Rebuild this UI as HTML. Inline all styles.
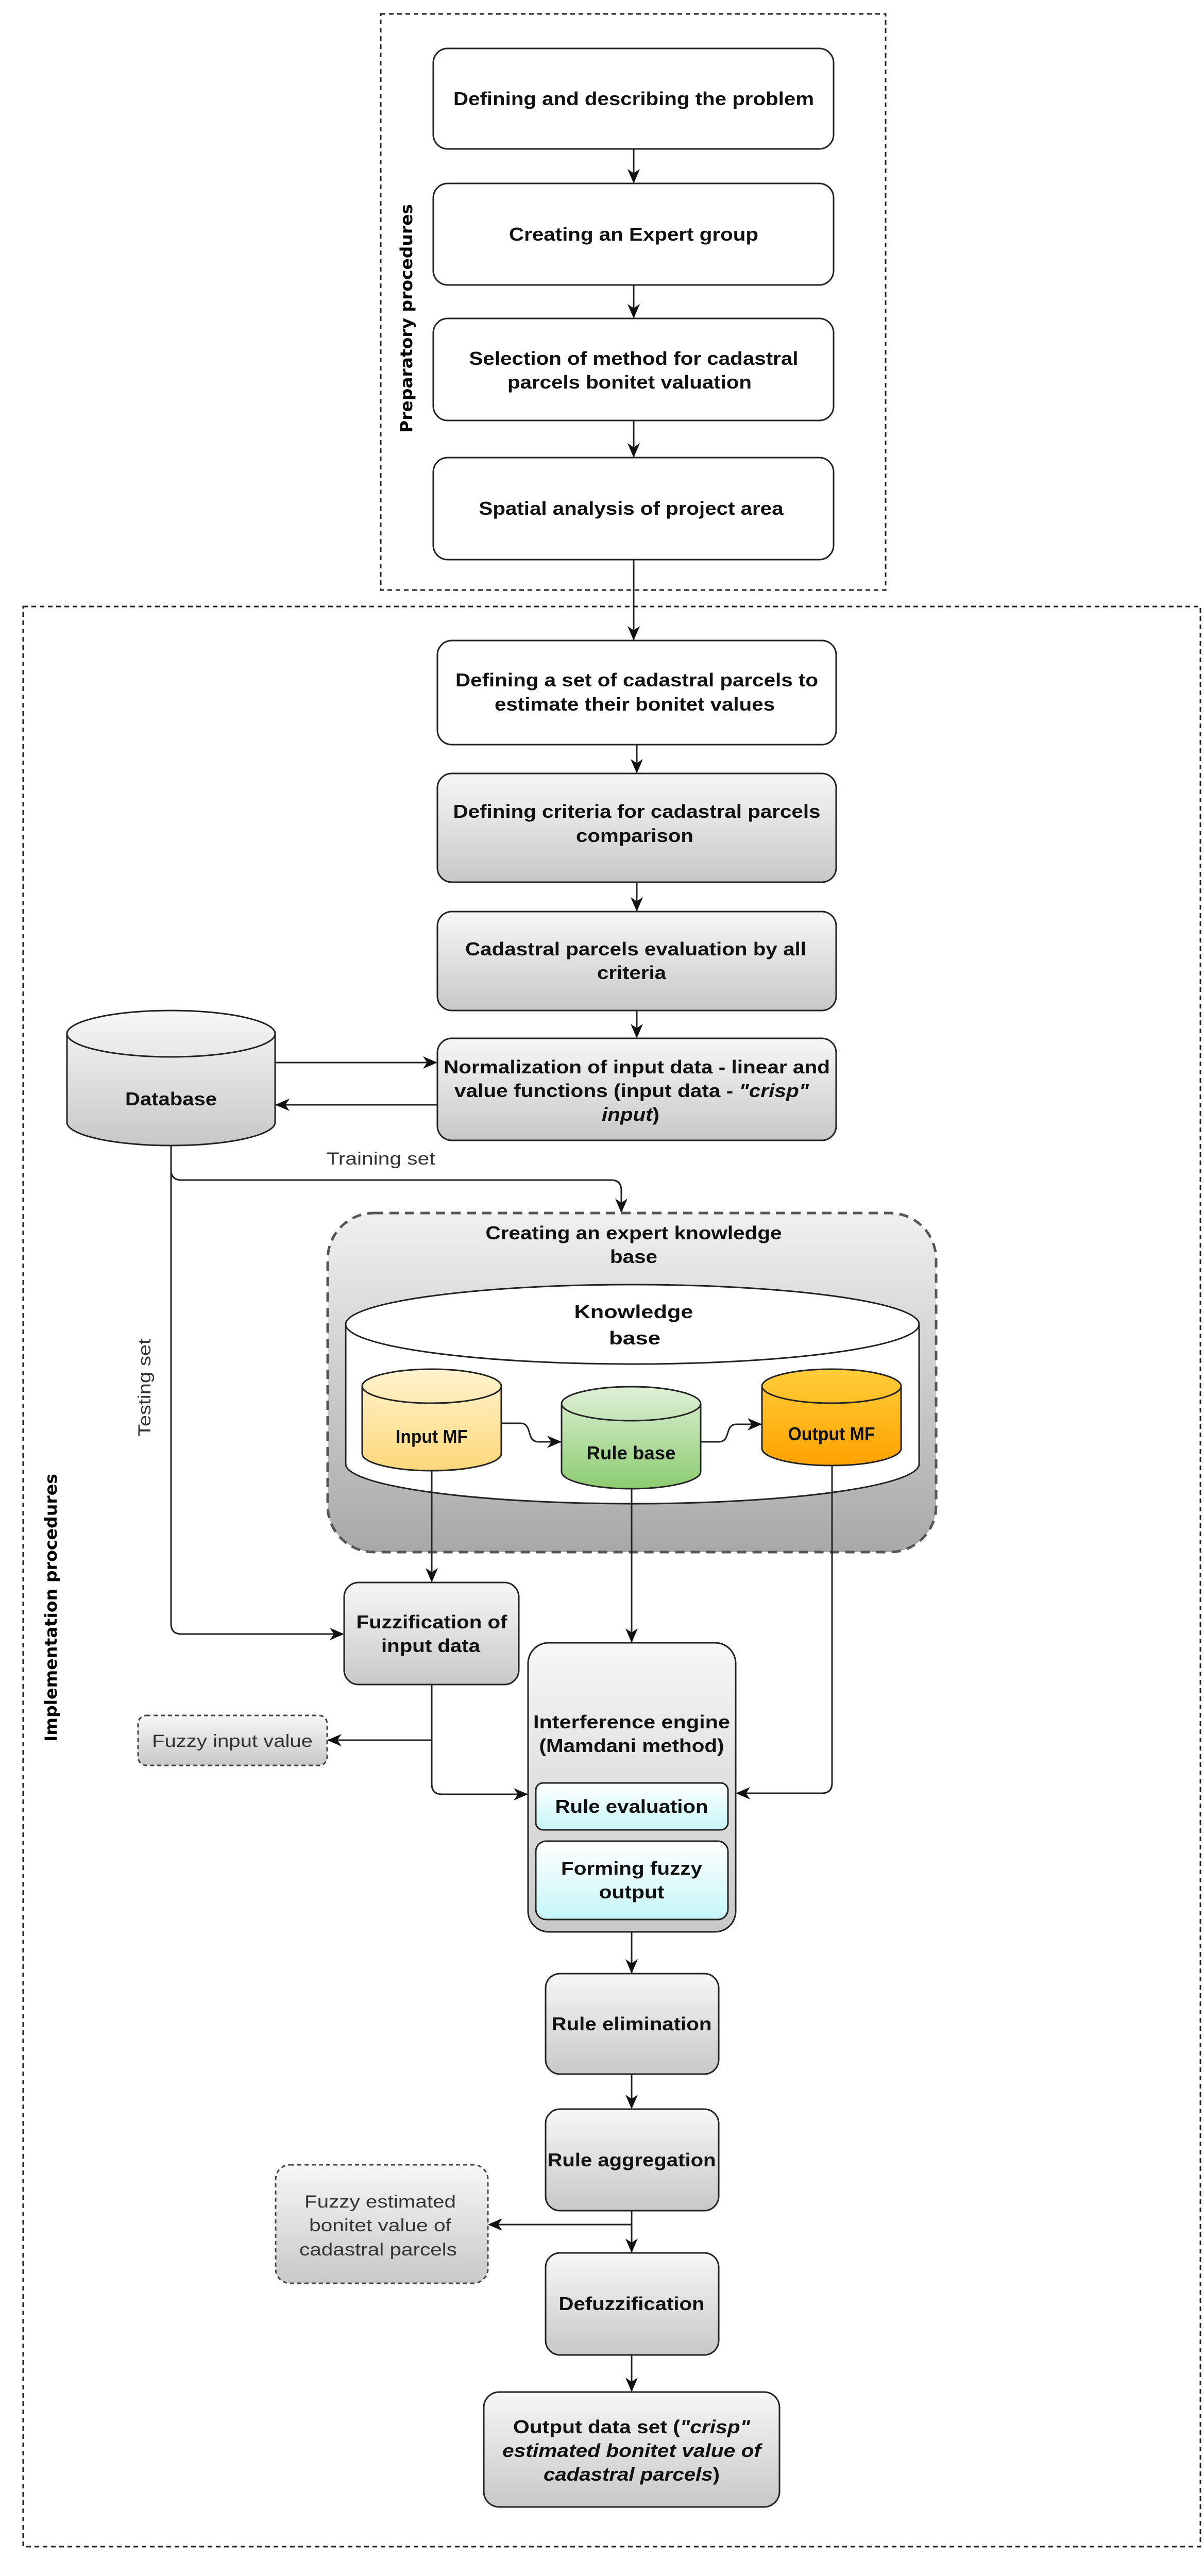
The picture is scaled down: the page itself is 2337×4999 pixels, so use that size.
<!DOCTYPE html>
<html><head><meta charset="utf-8"><style>html,body{margin:0;padding:0;background:#fff}svg{display:block}</style></head>
<body>
<svg width="2337" height="4999" viewBox="0 0 2337 4999" xmlns="http://www.w3.org/2000/svg" font-family="'Liberation Sans', sans-serif">
<defs>
<linearGradient id="g" x1="0" y1="0" x2="0" y2="1"><stop offset="0" stop-color="#f7f7f7"/><stop offset="1" stop-color="#c8c8c8"/></linearGradient>
<linearGradient id="gk" x1="0" y1="0" x2="0" y2="1"><stop offset="0" stop-color="#f0f0f0"/><stop offset="1" stop-color="#a8a8a8"/></linearGradient>
<linearGradient id="gc" x1="0" y1="0" x2="0" y2="1"><stop offset="0" stop-color="#ffffff"/><stop offset="1" stop-color="#c6f6f8"/></linearGradient>
<linearGradient id="gy" x1="0" y1="0" x2="0" y2="1"><stop offset="0" stop-color="#fff3cf"/><stop offset="1" stop-color="#fdd87a"/></linearGradient>
<linearGradient id="ggr" x1="0" y1="0" x2="0" y2="1"><stop offset="0" stop-color="#dff0d8"/><stop offset="1" stop-color="#8ccc70"/></linearGradient>
<linearGradient id="go" x1="0" y1="0" x2="0" y2="1"><stop offset="0" stop-color="#ffcd3a"/><stop offset="1" stop-color="#ffa200"/></linearGradient>
<marker id="a" markerWidth="28" markerHeight="24" refX="26" refY="12" orient="auto" markerUnits="userSpaceOnUse" viewBox="0 0 28 24"><path d="M0,0 L28,12 L0,24 L8,12 z" fill="#111"/></marker>
</defs>
<style>
.b{stroke:#222;stroke-width:3}
.t{font-weight:bold;font-size:36px;fill:#111;text-anchor:middle}
.n{font-size:34px;fill:#333;text-anchor:middle}
.l{stroke:#222;stroke-width:3;fill:none}
</style>

<rect x="739" y="27" width="980" height="1118" fill="none" stroke="#222" stroke-width="3" stroke-dasharray="9,7"/>
<rect x="45" y="1177" width="2285" height="3765" fill="none" stroke="#222" stroke-width="3" stroke-dasharray="9,7"/>
<text transform="translate(800,618) rotate(-90)" font-family="'DejaVu Sans',sans-serif" font-weight="bold" font-size="32" text-anchor="middle" textLength="444" lengthAdjust="spacingAndGlyphs">Preparatory procedures</text>
<text transform="translate(110,3120) rotate(-90)" font-family="'DejaVu Sans',sans-serif" font-weight="bold" font-size="32" text-anchor="middle" textLength="520" lengthAdjust="spacingAndGlyphs">Implementation procedures</text>

<rect class="b" x="841" y="94" width="777" height="195" rx="28" fill="#fff"/>
<text class="t" x="1230" y="204" textLength="700" lengthAdjust="spacingAndGlyphs">Defining and describing the problem</text>
<rect class="b" x="841" y="356" width="777" height="197" rx="28" fill="#fff"/>
<text class="t" x="1230" y="467" textLength="484" lengthAdjust="spacingAndGlyphs">Creating an Expert group</text>
<rect class="b" x="841" y="618" width="777" height="198" rx="28" fill="#fff"/>
<text class="t" x="1230" y="708" textLength="639" lengthAdjust="spacingAndGlyphs">Selection of method for cadastral</text>
<text class="t" x="1222" y="754" textLength="474" lengthAdjust="spacingAndGlyphs">parcels bonitet valuation</text>
<rect class="b" x="841" y="888" width="777" height="198" rx="28" fill="#fff"/>
<text class="t" x="1225" y="999" textLength="591" lengthAdjust="spacingAndGlyphs">Spatial analysis of project area</text>
<line class="l" x1="1230" y1="289" x2="1230" y2="354" marker-end="url(#a)"/>
<line class="l" x1="1230" y1="553" x2="1230" y2="616" marker-end="url(#a)"/>
<line class="l" x1="1230" y1="816" x2="1230" y2="886" marker-end="url(#a)"/>
<line class="l" x1="1230" y1="1086" x2="1230" y2="1241" marker-end="url(#a)"/>

<rect class="b" x="849" y="1243" width="774" height="202" rx="28" fill="#fff"/>
<text class="t" x="1236" y="1332" textLength="704" lengthAdjust="spacingAndGlyphs">Defining a set of cadastral parcels to</text>
<text class="t" x="1232" y="1379" textLength="544" lengthAdjust="spacingAndGlyphs">estimate their bonitet values</text>
<line class="l" x1="1236" y1="1445" x2="1236" y2="1499" marker-end="url(#a)"/>
<rect class="b" x="849" y="1501" width="774" height="211" rx="28" fill="url(#g)"/>
<text class="t" x="1236" y="1587" textLength="713" lengthAdjust="spacingAndGlyphs">Defining criteria for cadastral parcels</text>
<text class="t" x="1232" y="1634" textLength="228" lengthAdjust="spacingAndGlyphs">comparison</text>
<line class="l" x1="1236" y1="1712" x2="1236" y2="1767" marker-end="url(#a)"/>
<rect class="b" x="849" y="1769" width="774" height="192" rx="28" fill="url(#g)"/>
<text class="t" x="1234" y="1854" textLength="662" lengthAdjust="spacingAndGlyphs">Cadastral parcels evaluation by all</text>
<text class="t" x="1226" y="1900" textLength="134" lengthAdjust="spacingAndGlyphs">criteria</text>
<line class="l" x1="1236" y1="1961" x2="1236" y2="2013" marker-end="url(#a)"/>
<rect class="b" x="849" y="2015" width="774" height="198" rx="28" fill="url(#g)"/>
<text class="t" x="1236" y="2083" textLength="750" lengthAdjust="spacingAndGlyphs">Normalization of input data - linear and</text>
<text class="t" x="1226" y="2129" textLength="688" lengthAdjust="spacingAndGlyphs">value functions (input data - <tspan font-style="italic">"crisp"</tspan></text>
<text class="t" x="1224" y="2175" textLength="112" lengthAdjust="spacingAndGlyphs"><tspan font-style="italic">input</tspan>)</text>

<path class="b" d="M130,2006 A202,45 0 0 1 534,2006 V2178 A202,45 0 0 1 130,2178 Z" fill="url(#g)"/>
<path class="b" d="M130,2006 A202,45 0 0 0 534,2006" fill="none"/>
<text class="t" x="332" y="2145" textLength="178" lengthAdjust="spacingAndGlyphs">Database</text>
<line class="l" x1="534" y1="2062" x2="847" y2="2062" marker-end="url(#a)"/>
<line class="l" x1="849" y1="2144" x2="536" y2="2144" marker-end="url(#a)"/>
<text class="n" x="739" y="2260" textLength="211" lengthAdjust="spacingAndGlyphs">Training set</text>
<path class="l" d="M332,2223 V2270 Q332,2290 352,2290 H1186 Q1206,2290 1206,2310 V2352" marker-end="url(#a)"/>
<path class="l" d="M332,2223 V3151 Q332,3171 352,3171 H666" marker-end="url(#a)"/>
<text transform="translate(292,2693) rotate(-90)" class="n" textLength="190" lengthAdjust="spacingAndGlyphs">Testing set</text>

<rect x="636" y="2354" width="1181" height="658" rx="90" fill="url(#gk)" stroke="#555" stroke-width="5" stroke-dasharray="18,12"/>
<text class="t" x="1230" y="2405" textLength="575" lengthAdjust="spacingAndGlyphs">Creating an expert knowledge</text>
<text class="t" x="1230" y="2451" textLength="92" lengthAdjust="spacingAndGlyphs">base</text>
<path class="b" d="M671,2570 A556,77 0 0 1 1784,2570 V2841 A556,77 0 0 1 671,2841 Z" fill="#fff"/>
<path class="b" d="M671,2570 A556,77 0 0 0 1784,2570" fill="none"/>
<text class="t" x="1230" y="2558" font-size="42" textLength="231" lengthAdjust="spacingAndGlyphs">Knowledge</text>
<text class="t" x="1232" y="2609" font-size="42" textLength="100" lengthAdjust="spacingAndGlyphs">base</text>

<path class="b" d="M703,2690 A135,33 0 0 1 973,2690 V2821 A135,33 0 0 1 703,2821 Z" fill="url(#gy)"/>
<path class="b" d="M703,2690 A135,33 0 0 0 973,2690" fill="none"/>
<text class="t" x="838" y="2800" font-size="32" textLength="140" lengthAdjust="spacingAndGlyphs">Input MF</text>
<path class="b" d="M1090,2724 A135,33 0 0 1 1360,2724 V2856 A135,33 0 0 1 1090,2856 Z" fill="url(#ggr)"/>
<path class="b" d="M1090,2724 A135,33 0 0 0 1360,2724" fill="none"/>
<text class="t" x="1225" y="2832" font-size="32" textLength="173" lengthAdjust="spacingAndGlyphs">Rule base</text>
<path class="b" d="M1479,2690 A135,33 0 0 1 1749,2690 V2811 A135,33 0 0 1 1479,2811 Z" fill="url(#go)"/>
<path class="b" d="M1479,2690 A135,33 0 0 0 1749,2690" fill="none"/>
<text class="t" x="1614" y="2795" font-size="32" textLength="169" lengthAdjust="spacingAndGlyphs">Output MF</text>
<path class="l" d="M973,2762 H1010 C1035,2762 1020,2798 1045,2798 H1088" marker-end="url(#a)"/>
<path class="l" d="M1360,2798 H1395 C1420,2798 1405,2764 1430,2764 H1477" marker-end="url(#a)"/>

<line class="l" x1="838" y1="2854" x2="838" y2="3069" marker-end="url(#a)"/>
<line class="l" x1="1226" y1="2889" x2="1226" y2="3186" marker-end="url(#a)"/>
<path class="l" d="M1615,2844 V3460 Q1615,3480 1595,3480 H1430" marker-end="url(#a)"/>

<rect class="b" x="668" y="3071" width="339" height="198" rx="28" fill="url(#g)"/>
<text class="t" x="838" y="3160" textLength="293" lengthAdjust="spacingAndGlyphs">Fuzzification of</text>
<text class="t" x="836" y="3206" textLength="192" lengthAdjust="spacingAndGlyphs">input data</text>
<path class="l" d="M838,3269 V3462 Q838,3482 858,3482 H1023" marker-end="url(#a)"/>
<line class="l" x1="838" y1="3377" x2="637" y2="3377" marker-end="url(#a)"/>
<rect x="268" y="3329" width="367" height="97" rx="16" fill="url(#g)" stroke="#444" stroke-width="3" stroke-dasharray="8,6"/>
<text class="n" x="451" y="3390" textLength="312" lengthAdjust="spacingAndGlyphs">Fuzzy input value</text>

<rect class="b" x="1025" y="3188" width="403" height="561" rx="40" fill="url(#g)"/>
<text class="t" x="1226" y="3354" textLength="382" lengthAdjust="spacingAndGlyphs">Interference  engine</text>
<text class="t" x="1226" y="3400" textLength="359" lengthAdjust="spacingAndGlyphs">(Mamdani method)</text>
<rect class="b" x="1040" y="3460" width="373" height="91" rx="14" fill="url(#gc)"/>
<text class="t" x="1226" y="3518" textLength="297" lengthAdjust="spacingAndGlyphs">Rule evaluation</text>
<rect class="b" x="1040" y="3573" width="373" height="152" rx="20" fill="url(#gc)"/>
<text class="t" x="1226" y="3638" textLength="274" lengthAdjust="spacingAndGlyphs">Forming fuzzy</text>
<text class="t" x="1226" y="3684" textLength="127" lengthAdjust="spacingAndGlyphs">output</text>

<line class="l" x1="1226" y1="3749" x2="1226" y2="3828" marker-end="url(#a)"/>
<rect class="b" x="1059" y="3830" width="336" height="195" rx="28" fill="url(#g)"/>
<text class="t" x="1226" y="3940" textLength="311" lengthAdjust="spacingAndGlyphs">Rule elimination</text>
<line class="l" x1="1226" y1="4025" x2="1226" y2="4091" marker-end="url(#a)"/>
<rect class="b" x="1059" y="4093" width="336" height="197" rx="28" fill="url(#g)"/>
<text class="t" x="1226" y="4204" textLength="327" lengthAdjust="spacingAndGlyphs">Rule aggregation</text>
<line class="l" x1="1226" y1="4290" x2="1226" y2="4370" marker-end="url(#a)"/>
<line class="l" x1="1226" y1="4317" x2="949" y2="4317" marker-end="url(#a)"/>
<rect x="535" y="4201" width="412" height="230" rx="28" fill="url(#g)" stroke="#444" stroke-width="3" stroke-dasharray="8,6"/>
<text class="n" x="738" y="4284" textLength="294" lengthAdjust="spacingAndGlyphs">Fuzzy estimated</text>
<text class="n" x="738" y="4330" textLength="276" lengthAdjust="spacingAndGlyphs">bonitet value of</text>
<text class="n" x="734" y="4377" textLength="306" lengthAdjust="spacingAndGlyphs">cadastral parcels</text>
<rect class="b" x="1059" y="4372" width="336" height="198" rx="28" fill="url(#g)"/>
<text class="t" x="1226" y="4483" textLength="283" lengthAdjust="spacingAndGlyphs">Defuzzification</text>
<line class="l" x1="1226" y1="4570" x2="1226" y2="4640" marker-end="url(#a)"/>
<rect class="b" x="939" y="4642" width="574" height="223" rx="30" fill="url(#g)"/>
<text class="t" x="1226" y="4722" textLength="460" lengthAdjust="spacingAndGlyphs">Output data set (<tspan font-style="italic">"crisp"</tspan></text>
<text class="t" x="1226" y="4768" font-style="italic" textLength="502" lengthAdjust="spacingAndGlyphs">estimated bonitet value of</text>
<text class="t" x="1226" y="4814" textLength="342" lengthAdjust="spacingAndGlyphs"><tspan font-style="italic">cadastral parcels</tspan>)</text>
</svg>
</body></html>
